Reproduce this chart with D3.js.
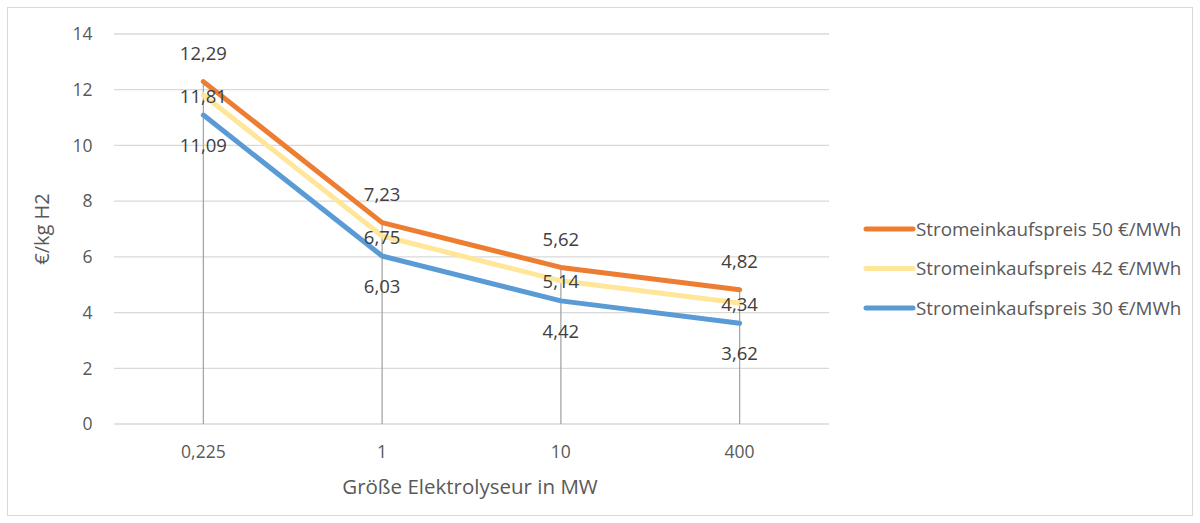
<!DOCTYPE html>
<html><head><meta charset="utf-8">
<script src="https://cdn.jsdelivr.net/npm/d3@7"></script>
<style>body{margin:0;background:#fff}svg{display:block}text{font-family:"Open Sans",sans-serif;fill:#595959}</style>
</head><body><svg id="c" width="1200" height="523"></svg>
<script>
const categories = ["0,225","1","10","400"];
const seriesNames = ["Stromeinkaufspreis 50 €/MWh","Stromeinkaufspreis 42 €/MWh","Stromeinkaufspreis 30 €/MWh"];
const s50 = [12.29,7.23,5.62,4.82];
const s42 = [11.81,6.75,5.14,4.34];
const s30 = [11.09,6.03,4.42,3.62];
const yTicks = [0,2,4,6,8,10,12,14];
const colors = ["#ED7D31","#FFE699","#5B9BD5"];
const labelPos = ["above","center","below"];
const series = [s50,s42,s30];

const svg = d3.select("#c");
svg.append("rect").attr("x",7.5).attr("y",7.5).attr("width",1185).attr("height",508).attr("fill","#fff").attr("stroke","#d9d9d9");

const x = d3.scaleBand().domain(categories).range([114,829]);
const y = d3.scaleLinear().domain([0,14]).range([424,34]);
const cx = d => x(d)+x.bandwidth()/2;

svg.append("g").selectAll("line").data(yTicks).join("line")
  .attr("x1",114).attr("x2",829).attr("y1",d=>y(d)).attr("y2",d=>y(d))
  .attr("stroke","#d9d9d9").attr("stroke-width",1.3);
svg.append("g").selectAll("text").data(yTicks).join("text")
  .attr("x",92.5).attr("y",d=>y(d)).attr("dy","0.36em").attr("text-anchor","end")
  .attr("font-size",17.5).text(d=>d);
svg.append("g").selectAll("text").data(categories).join("text")
  .attr("x",cx).attr("y",452).attr("dy","0.36em").attr("text-anchor","middle")
  .attr("font-size",17.5).text(d=>d);
svg.append("g").selectAll("line").data(categories).join("line")
  .attr("x1",cx).attr("x2",cx).attr("y1",(d,i)=>y(d3.max(series,s=>s[i]))).attr("y2",y(0))
  .attr("stroke","#a6a6a6").attr("stroke-width",1.3);

const line = d3.line().x((d,i)=>cx(categories[i])).y(d=>y(d));
series.forEach((s,k)=>{
  svg.append("path").datum(s).attr("d",line).attr("fill","none")
    .attr("stroke",colors[k]).attr("stroke-width",5).attr("stroke-linejoin","round").attr("stroke-linecap","round");
});
series.forEach((s,k)=>{
  const off = labelPos[k]==="above"?-28:labelPos[k]==="below"?30:1;
  svg.append("g").selectAll("text").data(s).join("text")
    .attr("x",(d,i)=>cx(categories[i])).attr("y",d=>y(d)+off).attr("dy","0.36em")
    .attr("text-anchor","middle").attr("font-size",18.5).style("fill","#404040")
    .text(d=>d.toFixed(2).replace(".",","));
});
svg.append("text").attr("transform","translate(42,229) rotate(-90)").attr("text-anchor","middle")
  .attr("dy","0.36em").attr("font-size",20).text("€/kg H2");
svg.append("text").attr("x",470).attr("y",487).attr("text-anchor","middle").attr("dy","0.36em")
  .attr("font-size",20.5).text("Größe Elektrolyseur in MW");
const lg = svg.append("g").selectAll("g").data(seriesNames).join("g")
  .attr("transform",(d,i)=>`translate(0,${229+i*39.5})`);
lg.append("line").attr("x1",866).attr("x2",913).attr("stroke",(d,i)=>colors[i]).attr("stroke-width",5).attr("stroke-linecap","round");
lg.append("text").attr("x",916).attr("dy","0.36em").attr("font-size",18.8).text(d=>d);
</script></body></html>
